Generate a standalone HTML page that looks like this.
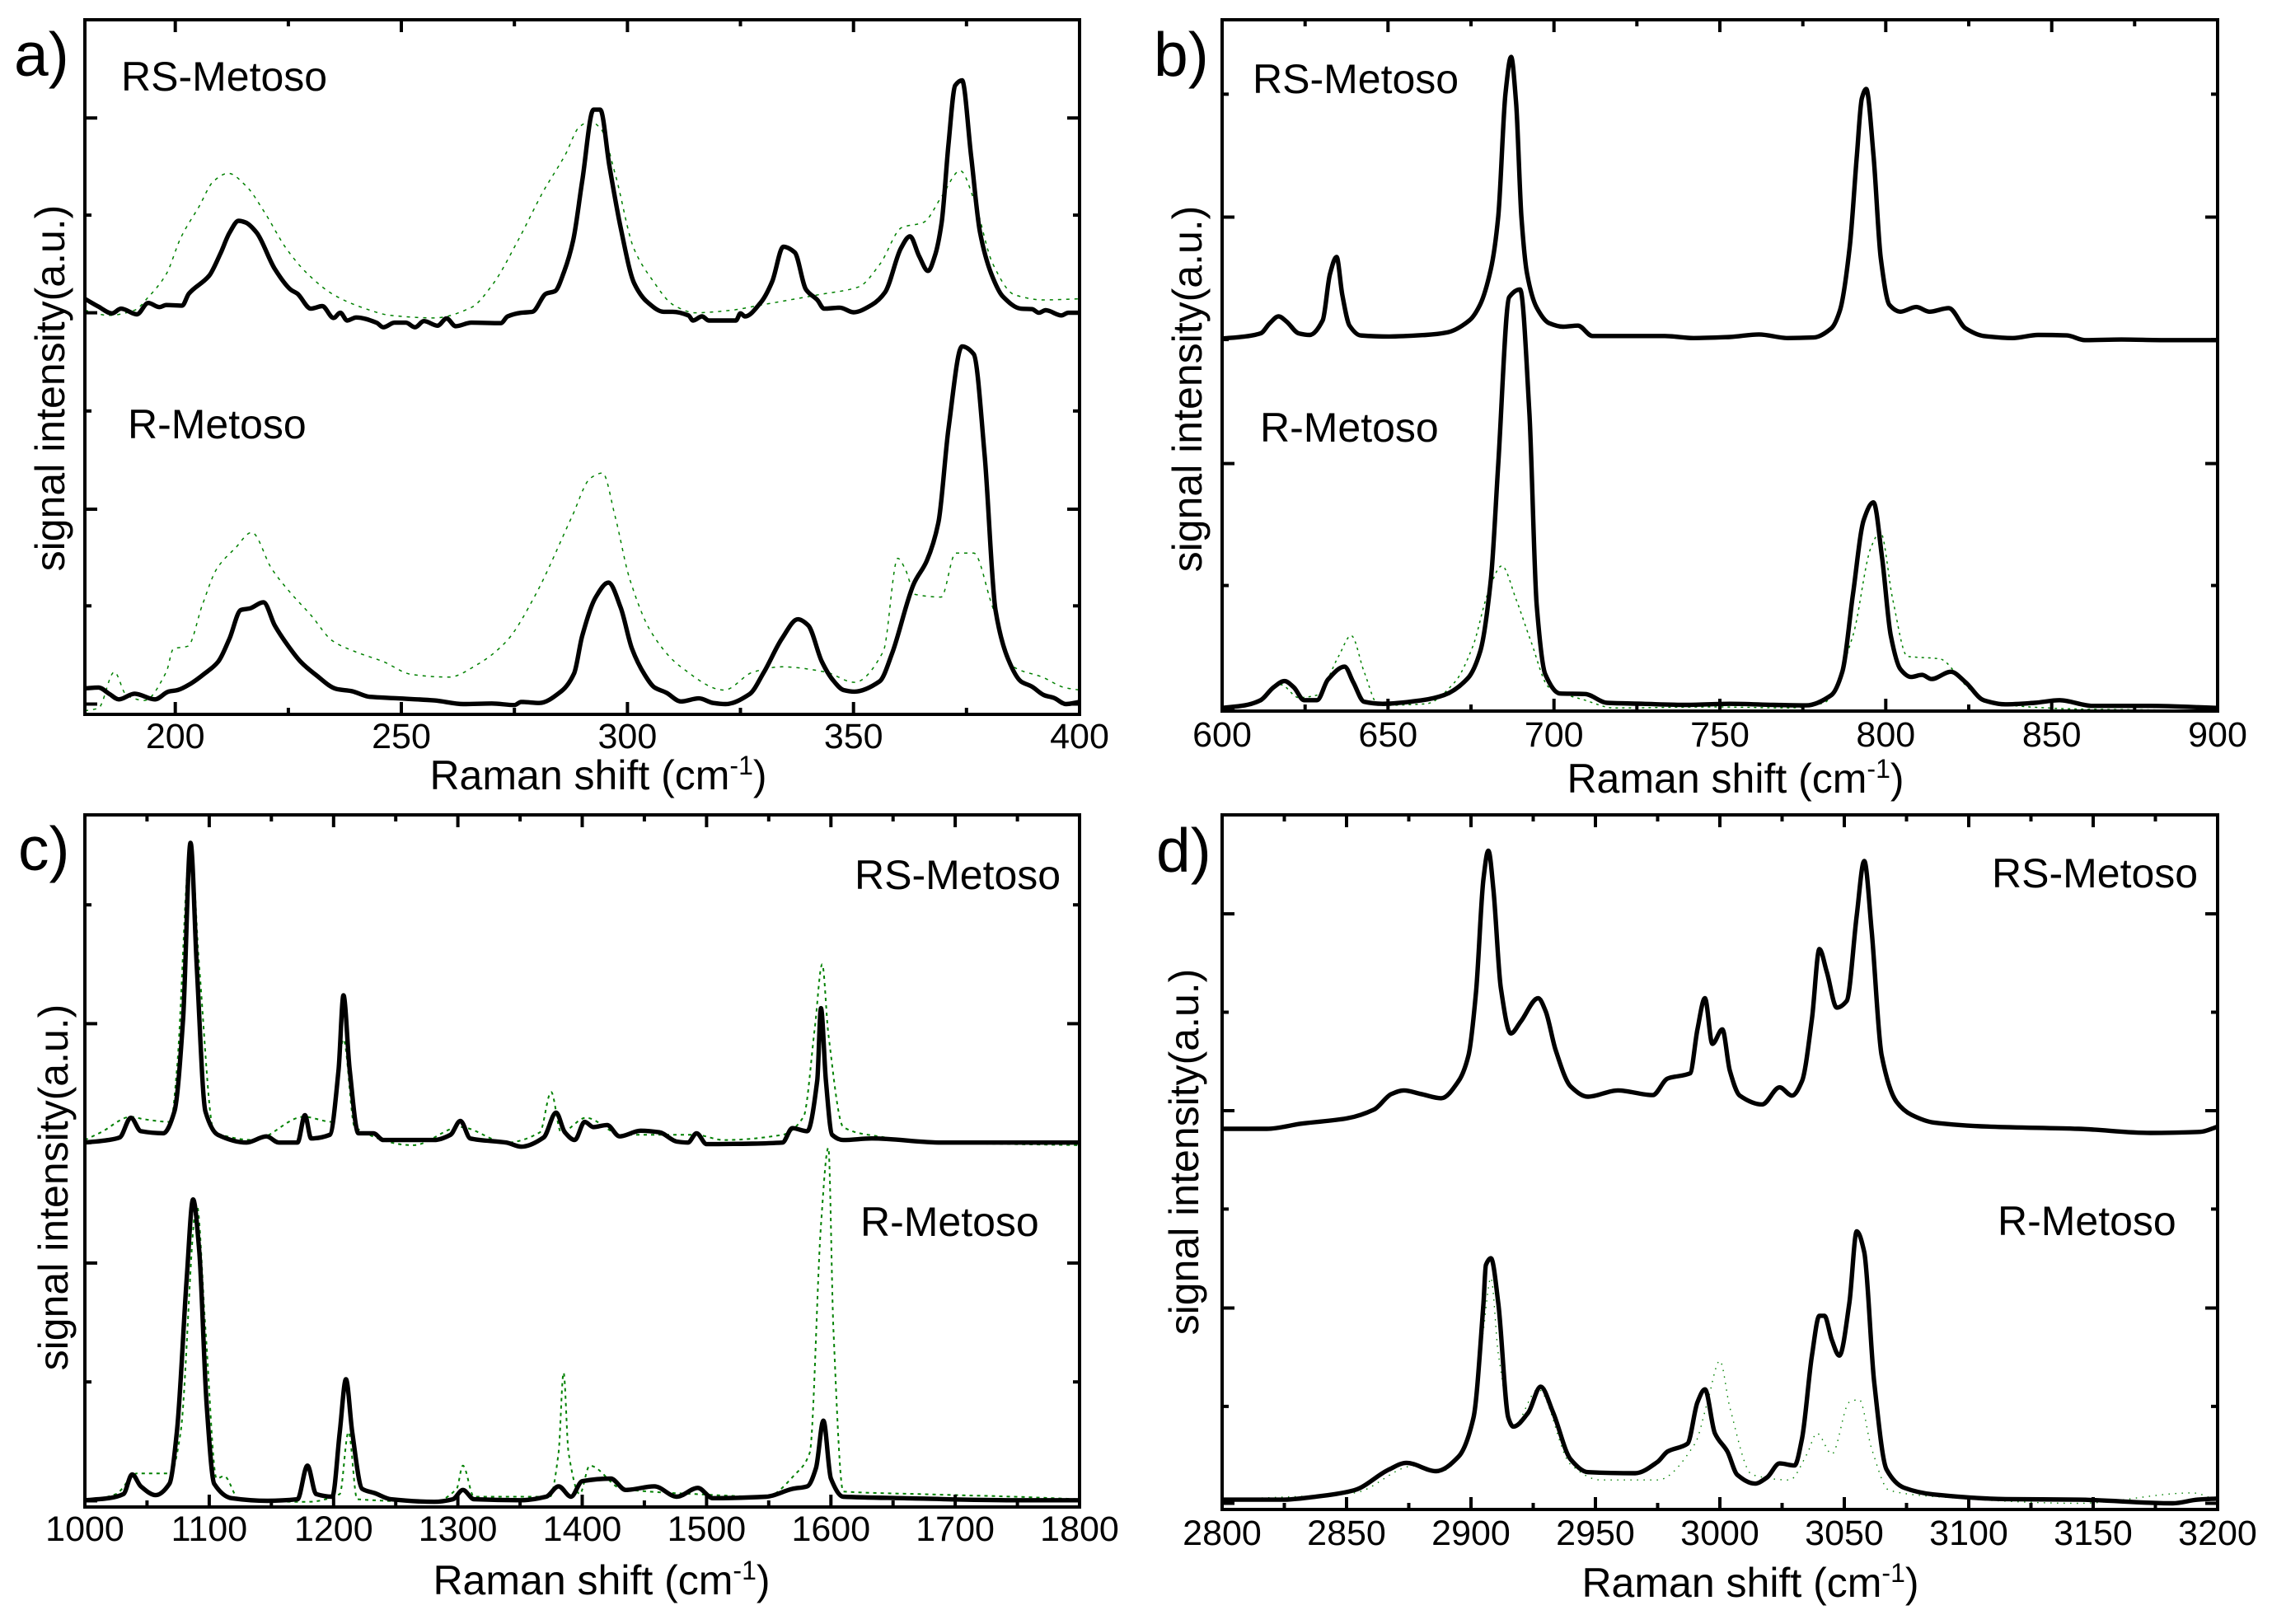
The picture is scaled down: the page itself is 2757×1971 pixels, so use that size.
<!DOCTYPE html>
<html lang="en">
<head>
<meta charset="utf-8">
<title>Raman spectra of RS-Metoso and R-Metoso</title>
<style>
html,body{margin:0;padding:0;background:#fff;}
svg{display:block;}
text{font-family:"Liberation Sans",Arial,sans-serif;fill:#000;}
.lab{font-size:50px;}
.tick{font-size:43px;text-anchor:middle;}
.letter{font-size:75px;}
.title{font-size:50px;text-anchor:middle;}
.sup{font-size:32px;}
</style>
</head>
<body>
<svg id="fig" xmlns="http://www.w3.org/2000/svg" width="2757" height="1971" viewBox="0 0 2757 1971">
<rect width="2757" height="1971" fill="#fff"/>

<g id="panel-a"></g>
<g id="panel-b"></g>
<g id="panel-c"></g>
<g id="panel-d"></g>

<text class="letter" x="17" y="92">a)</text>
<text class="lab" x="147" y="110">RS-Metoso</text>
<text class="lab" x="155" y="532">R-Metoso</text>
<text class="title" transform="translate(78,471) rotate(-90)">signal intensity(a.u.)</text>
<text class="title" x="726" y="958">Raman shift (cm<tspan class="sup" dy="-18">-1</tspan><tspan dy="18">)</tspan></text>

<text class="letter" x="1400" y="92">b)</text>
<text class="lab" x="1520" y="113">RS-Metoso</text>
<text class="lab" x="1529" y="536">R-Metoso</text>
<text class="title" transform="translate(1458,472) rotate(-90)">signal intensity(a.u.)</text>
<text class="title" x="2106" y="962">Raman shift (cm<tspan class="sup" dy="-18">-1</tspan><tspan dy="18">)</tspan></text>

<text class="letter" x="22" y="1056">c)</text>
<text class="lab" x="1037" y="1079">RS-Metoso</text>
<text class="lab" x="1044" y="1500">R-Metoso</text>
<text class="title" transform="translate(82,1441) rotate(-90)">signal intensity(a.u.)</text>
<text class="title" x="730" y="1935">Raman shift (cm<tspan class="sup" dy="-18">-1</tspan><tspan dy="18">)</tspan></text>

<text class="letter" x="1403" y="1058">d)</text>
<text class="lab" x="2417" y="1077">RS-Metoso</text>
<text class="lab" x="2424" y="1499">R-Metoso</text>
<text class="title" transform="translate(1454,1398) rotate(-90)">signal intensity(a.u.)</text>
<text class="title" x="2124" y="1938">Raman shift (cm<tspan class="sup" dy="-18">-1</tspan><tspan dy="18">)</tspan></text>
</svg>

<script>
/* ---------- Panel a (180-400 cm-1) ---------- */
const aXMajor = [200,250,300,350,400];
const aXMinor = [225,275,325,375];
const aYMajor = [1154,777,397,20];
const aYMinor = [966,587,210];
const aRsX = [180,183,186,188,191.5,194,196.5,198,201.5,203,207.5,210,212,214,215.5,218,222,225.5,227,230,232.5,235,236.5,238,240,244.5,246,248.5,251,253,255,258,260,262,265.5,272,273.5,276.5,279,282,284,286,288,290,292.5,294,296,298.5,301.5,304.5,308,310,313.5,314.5,316.5,318,324,325,326,329.5,332,334.5,337,339.5,342,343.5,347,350,354,357,360.5,362.5,364.5,366.5,368,369.5,371,372.5,374,376,378,380.5,383,387,389.5,391,392.5,396,397.5,400];
const aRsY = [804,789,776,785,774,796,788,792,791,814,849,892,932,955,952,932,862,822,814,785,790,767,777,762,768,758,749,758,758,749,761,752,766,751,758,757,770,777,779,814,819,857,917,1032,1170,1170,1062,942,834,797,779,779,772,762,770,762,762,776,770,797,837,905,894,822,802,785,787,778,792,817,902,925,887,858,887,952,1102,1217,1227,1082,932,852,809,785,784,777,782,772,777,777];
const aRX = [180,183,185.5,187.5,191,195.5,198.5,200.5,203.5,206.5,209.5,212,214.5,216.5,219.5,222,225,227.7,231,235.7,239,243,249.3,257.3,263.7,270,275,276.5,280.5,285.4,288.2,290,293,295.8,298.5,301,303.8,306,308.6,311.8,315.8,319,321.7,327,330.2,334.2,337.7,340,343,345.4,347.8,350.2,355.8,358.5,363.3,366.2,368.8,371,374,376.6,379,381.4,384.2,387,389.4,392.2,394.3,397,400];
const aRY = [50,52,39,29,40,29,44,47,60,79,102,147,202,205,217,172,132,102,77,49,45,34,31,27,20,21,18,24,22,45,79,152,227,255,207,127,77,52,42,25,31,22,20,39,82,147,184,172,102,67,47,44,64,117,252,297,372,552,712,697,502,202,107,64,54,37,32,20,24];
const aRsRefX = [180,185.3,191,194,198,201.2,205.2,208.5,211.7,215.7,219.7,224.5,229.3,235,241.4,247.7,257.3,265.4,270.2,275.8,281.4,286.2,289.4,291.8,294.2,297.4,301.4,305.4,310.2,315,323,329.5,335.9,342.3,351.1,355.9,360.7,365.5,369.5,373.6,376.8,380.8,385.6,392,400];
const aRsRefY = [782,772,782,807,852,922,982,1032,1047,1022,972,902,852,812,787,772,767,787,832,917,1012,1082,1137,1147,1132,1042,902,842,792,777,782,792,802,812,827,872,942,952,1002,1052,992,872,812,802,804];
const aRRefX = [180,183,186.5,189.2,193.2,198,199.6,202.8,206,209.2,213.3,216.9,221.3,225.3,230,234.8,239.6,246,252.4,260.5,266.9,273.3,279.7,287.7,291.8,294.5,297.3,300.5,305.4,311.8,321.4,327.8,334.2,343.8,350.2,356.6,359.8,361.4,363.7,369.4,372.6,376.6,380.6,385.4,391.8,396.6,400];
const aRRefY = [7,12,82,37,27,82,127,132,212,282,322,352,282,237,192,142,122,102,77,72,97,142,232,382,457,467,382,262,157,92,47,82,92,82,62,122,302,282,232,227,312,312,212,92,72,52,47];

/* ---------- Panel b (600-900 cm-1) ---------- */
const bXMajor = [600,650,700,750,800,850,900];
const bXMinor = [625,675,725,775,825,875];
const bYMajor = [956,479,6];
const bYMinor = [1194,719,243];
const bRsX = [600,606.8,611.6,614.4,617,619.4,623.1,626.4,630.3,632.5,634.5,636.2,638.4,641.7,650.4,661.4,667.9,674.5,677.7,681,683.2,685.4,687.1,688.6,690.2,691.9,694.8,698.5,702.8,707.2,711.6,722.5,733.4,742.1,753,761.8,770.5,778.2,783.6,786.2,789.1,791.3,792.8,794.1,796.3,798.5,801.1,804.4,809.2,813.1,819,824,829.5,838.2,845.9,854.6,860,871,884,900];
const bRsY = [721,725,731,751,764,754,731,728,756,846,879,806,746,727,725,728,733,756,786,856,956,1196,1266,1176,956,846,781,751,744,746,726,726,726,722,724,729,722,723,741,776,896,1076,1186,1204,1076,876,786,773,782,773,780,741,726,722,728,727,718,719,718,718];
const bRX = [600,606.8,611.6,615.5,618.8,621.6,624.7,628.6,631.9,636.9,639.5,642.8,648.3,660.3,666.9,674.1,677.8,681,683.2,686.5,689.8,692.6,694.8,697.4,701.8,709.4,716,726.9,740,753,766.1,776,783.6,786.9,790.1,793.4,796.3,798.9,801.5,804.4,807.6,810.9,813.8,819.6,824,829.5,836,844.8,852.4,862.3,879.8,900];
const bRY = [6,11,21,46,58,46,21,21,61,86,56,18,14,21,31,64,116,256,476,801,816,576,206,71,34,33,16,14,12,14,12,11,31,76,226,371,404,296,146,81,66,70,62,76,56,21,13,16,21,10,10,6];
const bRRefX = [600,611.1,617.7,623.1,628.6,635.1,638.9,642.8,647.2,661.4,670.1,675.6,680,684.3,688.6,693,698.5,709.4,718.1,748.7,770.5,781.4,790.1,795.5,798.4,802.1,806.5,816.3,823.9,830.5,857.8,900];
const bRRefY = [2,16,51,26,31,106,146,76,11,14,56,126,226,281,216,136,46,21,6,8,6,16,146,316,346,216,106,101,51,16,4,1];

/* ---------- Panel c (1000-1800 cm-1) ---------- */
const cXMajor = [1000,1100,1200,1300,1400,1500,1600,1700,1800];
const cXMinor = [1050,1150,1250,1350,1450,1550,1650,1750];
const cYMajor = [935,472,12];
const cYMinor = [1165,705,242];
const cRsX = [1000,1019,1028,1037,1045,1063,1072,1079,1085,1090,1097,1107,1130,1146,1156,1171,1177,1182,1197,1204,1208,1213,1220,1232,1240,1281,1294,1302,1310,1339,1351,1369,1379,1386,1394,1402,1409,1420,1430,1447,1462,1476,1485,1492,1500,1537,1561,1569,1581,1589,1592,1596,1601,1610,1633,1689,1747,1800];
const cRsY = [705,710,715,753,727,723,765,945,1285,1045,765,720,705,717,705,705,758,713,720,845,990,845,723,723,710,710,720,747,713,705,697,715,763,725,710,745,735,739,717,728,725,707,705,723,702,703,705,733,727,825,965,825,720,710,713,705,705,705];
const cRX = [1000,1019,1031,1038,1045,1057,1068,1074,1082,1087,1092,1098,1104,1118,1147,1171,1179,1186,1199,1205,1210,1215,1223,1233,1246,1281,1296,1304,1313,1351,1371,1381,1391,1400,1423,1435,1458,1476,1493,1505,1548,1569,1581,1588,1594,1600,1610,1659,1747,1800];
const cRY = [13,17,25,63,40,23,45,145,445,595,495,195,45,17,12,15,80,25,20,145,247,145,35,27,15,10,15,33,15,13,20,40,20,50,55,33,40,20,37,17,20,35,40,75,167,55,20,17,13,13];
const cRsRefX = [1000,1013,1037,1048,1069,1074,1085,1092,1104,1136,1176,1199,1208,1217,1264,1302,1339,1366,1375,1383,1403,1432,1491,1514,1561,1578,1587,1593,1598,1610,1630,1689,1800];
const cRsRefY = [710,725,755,750,745,845,1285,1045,725,710,755,745,905,735,700,735,705,725,803,725,753,720,720,710,720,755,925,1050,915,735,720,705,700];
const cRRefX = [1000,1025,1042,1069,1077,1090,1097,1106,1112,1124,1171,1179,1205,1212,1219,1281,1299,1304,1313,1374,1381,1385,1389,1398,1406,1432,1491,1548,1572,1583,1592,1598,1602,1610,1671,1747,1800];
const cRRefY = [10,25,65,65,145,585,345,55,60,15,10,10,25,145,15,10,35,80,20,20,105,260,105,25,80,35,25,20,65,105,545,695,345,30,25,20,15];

/* ---------- Panel d (2800-3200 cm-1) ---------- */
const dXMajor = [2800,2850,2900,2950,3000,3050,3100,3150,3200];
const dXMinor = [2825,2875,2925,2975,3025,3075,3125,3175];
const dYMajor = [1150,770,389,12];
const dYMinor = [960,580,199];
const dRsX = [2800,2818,2832,2850,2861,2868,2873,2880,2888,2895,2899,2902,2905,2907,2909,2912,2916,2920,2927,2930,2934,2940,2947,2959,2973,2979,2988,2991,2994,2997,3001,3004,3008,3017,3024,3029,3033,3037,3040,3043,3047,3051,3055,3058,3061,3065,3071,3077,3086,3109,3144,3173,3193,3200];
const dRsY = [735,735,745,755,772,802,809,802,794,827,877,997,1217,1272,1197,1007,919,942,987,962,887,817,797,809,800,832,842,927,987,899,927,847,799,782,815,799,827,947,1082,1037,969,982,1147,1252,1117,877,787,762,747,739,735,727,729,739];
const dRX = [2800,2824,2838,2853,2867,2874,2886,2895,2901,2905,2906,2908,2911,2915,2917,2923,2928,2933,2940,2947,2966,2975,2979,2987,2991,2994,2998,3003,3007,3014,3019,3024,3030,3033,3037,3040,3042,3045,3048,3052,3055,3058,3062,3067,3074,3086,3115,3144,3182,3192,3200];
const dRY = [19,19,25,37,77,90,74,102,177,397,472,485,397,177,160,187,237,187,97,72,70,92,112,127,207,232,147,112,67,50,62,89,85,137,297,374,374,327,297,397,537,497,247,77,42,29,20,19,12,19,21];
const dRRefX = [2800,2853,2877,2888,2899,2905,2908,2911,2917,2927,2940,2952,2975,2990,2995,3000,3004,3013,3028,3035,3039,3045,3052,3056,3061,3068,3086,3144,3190,3200];
const dRRefY = [19,32,84,74,137,347,447,300,160,232,87,57,57,127,207,287,197,67,57,107,147,107,207,212,117,37,25,12,32,17];

const SVGNS = 'http://www.w3.org/2000/svg';

function axisX(box, xMin, xMax) {
  return function (v) { return box.left + (v - xMin) / (xMax - xMin) * (box.right - box.left); };
}
function axisY(box, yMax) {
  return function (v) { return box.bottom - v / yMax * (box.bottom - box.top); };
}
function tickLine(parent, x1, y1, x2, y2, name) {
  const t = document.createElementNS(SVGNS, 'line');
  t.setAttribute('x1', x1.toFixed(1));
  t.setAttribute('y1', y1.toFixed(1));
  t.setAttribute('x2', x2.toFixed(1));
  t.setAttribute('y2', y2.toFixed(1));
  t.setAttribute('stroke', '#000');
  t.setAttribute('stroke-width', '4');
  
  
  parent.appendChild(t);
}
/* Monotone cubic so the curve never overshoots its read points. */
function smoothPath(px, py) {
  const n = px.length;
  const sec = [];
  for (let i = 0; i < n - 1; i++) {
    const dx = px[i + 1] - px[i];
    sec.push(dx !== 0 ? (py[i + 1] - py[i]) / dx : 0);
  }
  const m = [sec[0]];
  for (let i = 1; i < n - 1; i++) {
    if (sec[i - 1] * sec[i] <= 0) {
      m.push(0);
    } else {
      const h = 2 * sec[i - 1] * sec[i] / (sec[i - 1] + sec[i]);
      m.push(h);
    }
  }
  m.push(sec[n - 2]);
  let d = 'M' + px[0].toFixed(1) + ' ' + py[0].toFixed(1);
  for (let i = 0; i < n - 1; i++) {
    const dx = px[i + 1] - px[i];
    const c1x = px[i] + dx / 3, c1y = py[i] + m[i] * dx / 3;
    const c2x = px[i + 1] - dx / 3, c2y = py[i + 1] - m[i + 1] * dx / 3;
    d += 'C' + c1x.toFixed(1) + ' ' + c1y.toFixed(1) + ' ' + c2x.toFixed(1) + ' ' + c2y.toFixed(1) + ' ' + px[i + 1].toFixed(1) + ' ' + py[i + 1].toFixed(1);
  }
  return d;
}
function spectrum(parent, s, sx, sy) {
  const n = Math.min(s.x.length, s.y.length);
  const px = [], py = [];
  for (let i = 0; i < n; i++) {
    px.push(sx(s.x[i]));
    py.push(sy(s.y[i]));
  }
  const p = document.createElementNS(SVGNS, 'path');
  p.setAttribute('d', smoothPath(px, py));
  p.setAttribute('fill', 'none');
  if (s.ref) {
    p.setAttribute('stroke', '#008000');
    p.setAttribute('stroke-width', s.w);
    p.setAttribute('stroke-dasharray', s.dash);
  } else {
    p.setAttribute('stroke', '#000');
    p.setAttribute('stroke-width', s.w);
    p.setAttribute('stroke-linejoin', 'round');
  }
  
  
  parent.appendChild(p);
}
function drawPanel(id, box, xMin, xMax, yMax, ticks, labelY, series) {
  const g = document.getElementById(id);
  const sx = axisX(box, xMin, xMax);
  const sy = axisY(box, yMax);

  series.forEach(function (s) {
    if (s.ref) spectrum(g, s, sx, sy);
  });
  series.forEach(function (s) {
    if (!s.ref) spectrum(g, s, sx, sy);
  });

  ticks.xMajor.forEach(function (v) {
    tickLine(g, sx(v), box.bottom, sx(v), box.bottom - 15, 'x-major-tick-bottom');
    tickLine(g, sx(v), box.top, sx(v), box.top + 15, 'x-major-tick-top');
    const t = document.createElementNS(SVGNS, 'text');
    t.setAttribute('class', 'tick');
    t.setAttribute('x', sx(v).toFixed(1));
    t.setAttribute('y', labelY);
    
    
    t.textContent = v;
    g.appendChild(t);
  });
  ticks.xMinor.forEach(function (v) {
    tickLine(g, sx(v), box.bottom, sx(v), box.bottom - 8, 'x-minor-tick-bottom');
    tickLine(g, sx(v), box.top, sx(v), box.top + 8, 'x-minor-tick-top');
  });
  ticks.yMajor.forEach(function (v) {
    tickLine(g, box.left, sy(v), box.left + 15, sy(v), 'y-major-tick-left');
    tickLine(g, box.right, sy(v), box.right - 15, sy(v), 'y-major-tick-right');
  });
  ticks.yMinor.forEach(function (v) {
    tickLine(g, box.left, sy(v), box.left + 8, sy(v), 'y-minor-tick-left');
    tickLine(g, box.right, sy(v), box.right - 8, sy(v), 'y-minor-tick-right');
  });

  const f = document.createElementNS(SVGNS, 'rect');
  f.setAttribute('x', box.left);
  f.setAttribute('y', box.top);
  f.setAttribute('width', box.right - box.left);
  f.setAttribute('height', box.bottom - box.top);
  f.setAttribute('fill', 'none');
  f.setAttribute('stroke', '#000');
  f.setAttribute('stroke-width', '4');
  
  
  g.appendChild(f);
}

drawPanel('panel-a', {left:103,right:1310,top:24,bottom:867}, 180, 400, 1344,
  {xMajor:aXMajor,xMinor:aXMinor,yMajor:aYMajor,yMinor:aYMinor}, 908, [
  {x:aRsRefX,y:aRsRefY,ref:true,w:1.5,dash:'4 6',name:'panel-a-rs-reference-line'},
  {x:aRRefX,y:aRRefY,ref:true,w:1.5,dash:'4 6',name:'panel-a-r-reference-line'},
  {x:aRsX,y:aRsY,ref:false,w:5.4,name:'panel-a-rs-metoso-line'},
  {x:aRX,y:aRY,ref:false,w:5.4,name:'panel-a-r-metoso-line'}
]);
drawPanel('panel-b', {left:1483,right:2691,top:24,bottom:863}, 600, 900, 1338,
  {xMajor:bXMajor,xMinor:bXMinor,yMajor:bYMajor,yMinor:bYMinor}, 906, [
  {x:bRRefX,y:bRRefY,ref:true,w:1.5,dash:'3 5',name:'panel-b-r-reference-line'},
  {x:bRsX,y:bRsY,ref:false,w:5.4,name:'panel-b-rs-metoso-line'},
  {x:bRX,y:bRY,ref:false,w:5.4,name:'panel-b-r-metoso-line'}
]);
drawPanel('panel-c', {left:103,right:1310,top:989,bottom:1829}, 1000, 1800, 1339,
  {xMajor:cXMajor,xMinor:cXMinor,yMajor:cYMajor,yMinor:cYMinor}, 1870, [
  {x:cRsRefX,y:cRsRefY,ref:true,w:2,dash:'4 5',name:'panel-c-rs-reference-line'},
  {x:cRRefX,y:cRRefY,ref:true,w:2,dash:'4 5',name:'panel-c-r-reference-line'},
  {x:cRsX,y:cRsY,ref:false,w:5.4,name:'panel-c-rs-metoso-line'},
  {x:cRX,y:cRY,ref:false,w:5.4,name:'panel-c-r-metoso-line'}
]);
drawPanel('panel-d', {left:1483,right:2691,top:989,bottom:1832}, 2800, 3200, 1341,
  {xMajor:dXMajor,xMinor:dXMinor,yMajor:dYMajor,yMinor:dYMinor}, 1875, [
  {x:dRRefX,y:dRRefY,ref:true,w:1.4,dash:'1.5 6.5',name:'panel-d-r-reference-line'},
  {x:dRsX,y:dRsY,ref:false,w:5.4,name:'panel-d-rs-metoso-line'},
  {x:dRX,y:dRY,ref:false,w:5.4,name:'panel-d-r-metoso-line'}
]);
</script>
</body>
</html>
